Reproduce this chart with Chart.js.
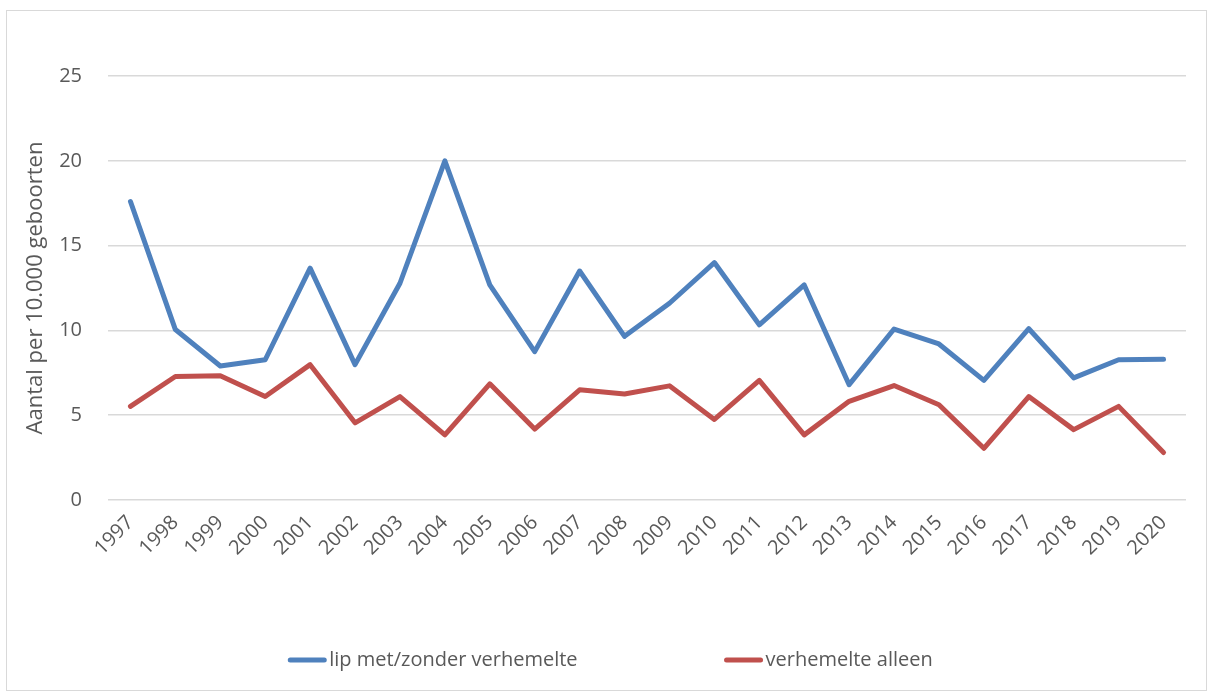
<!DOCTYPE html>
<html>
<head>
<meta charset="utf-8">
<script src="https://cdn.jsdelivr.net/npm/chart.js@4/dist/chart.umd.min.js"></script>
<style>
  html, body { margin: 0; padding: 0; background: #fff; }
  #wrap { width: 1213px; height: 695px; position: relative; }
</style>
</head>
<body>
<div id="wrap"><canvas id="cleftChart" width="1213" height="695"></canvas></div>
<script>
const years = ["1997", "1998", "1999", "2000", "2001", "2002", "2003", "2004", "2005", "2006", "2007", "2008",
  "2009", "2010", "2011", "2012", "2013", "2014", "2015", "2016", "2017", "2018", "2019", "2020"];

const lipValues = [17.6, 10.05, 7.9, 8.27, 13.67, 7.98, 12.78, 20.0, 12.68, 8.75, 13.5, 9.65,
  11.6, 14.0, 10.33, 12.68, 6.8, 10.08, 9.2, 7.05, 10.1, 7.2, 8.27, 8.3];

const palateValues = [5.52, 7.28, 7.33, 6.1, 7.98, 4.55, 6.1, 3.84, 6.85, 4.18, 6.5, 6.25,
  6.73, 4.75, 7.05, 3.84, 5.82, 6.75, 5.62, 3.05, 6.1, 4.15, 5.52, 2.8];

const seriesNames = ["lip met/zonder verhemelte", "verhemelte alleen"];
const yTicks = [0, 5, 10, 15, 20, 25];

const textColor = "#595959";
const fontFamily = "'Open Sans', 'Noto Sans', sans-serif";

const frame = {
  id: "frame",
  beforeDraw(chart) {
    const c = chart.ctx;
    c.save();
    c.fillStyle = "#fff";
    c.fillRect(0, 0, chart.width, chart.height);
    c.strokeStyle = "#d9d9d9";
    c.lineWidth = 1;
    c.strokeRect(6.5, 10.5, 1200, 680);
    c.restore();
  }
};

// legend drawn like the office one: short thick line, text right next to it, wide gap between items
const bottomLegend = {
  id: "bottomLegend",
  afterDraw(chart) {
    const c = chart.ctx;
    const y = 660;
    const lineLen = 40;
    const textGap = 2;
    const itemGap = 146;
    c.save();
    c.font = "20px " + fontFamily;
    c.textBaseline = "middle";
    const items = chart.data.datasets.map((ds) => ({
      text: ds.label,
      color: ds.borderColor,
      w: lineLen + textGap + c.measureText(ds.label).width
    }));
    const total = items.reduce((s, it) => s + it.w, 0) + itemGap * (items.length - 1);
    let x = 610 - total / 2;
    items.forEach((it) => {
      c.strokeStyle = it.color;
      c.lineWidth = 5;
      c.lineCap = "round";
      c.beginPath();
      c.moveTo(x + 3, y);
      c.lineTo(x + lineLen - 3, y);
      c.stroke();
      c.fillStyle = textColor;
      c.fillText(it.text, x + lineLen + textGap, y);
      x += it.w + itemGap;
    });
    c.restore();
  }
};

const canvas = document.getElementById("cleftChart");

new Chart(canvas.getContext("2d"), {
  type: "line",
  data: {
    labels: years,
    datasets: [
      {
        label: seriesNames[0],
        data: lipValues,
        borderColor: "#4f81bd",
        backgroundColor: "#4f81bd",
        borderWidth: 5,
        borderCapStyle: "round",
        borderJoinStyle: "round",
        pointRadius: 0,
        tension: 0
      },
      {
        label: seriesNames[1],
        data: palateValues,
        borderColor: "#c0504d",
        backgroundColor: "#c0504d",
        borderWidth: 5,
        borderCapStyle: "round",
        borderJoinStyle: "round",
        pointRadius: 0,
        tension: 0
      }
    ]
  },
  options: {
    responsive: false,
    animation: false,
    layout: { padding: { left: 20, top: 76, right: 27, bottom: 110 } },
    plugins: {
      legend: { display: false },
      tooltip: { enabled: false }
    },
    scales: {
      x: {
        offset: true,
        grid: { display: false, drawTicks: false },
        border: { display: false },
        afterFit(scale) { scale.height = 85; },
        ticks: {
          autoSkip: false,
          maxRotation: 45,
          minRotation: 45,
          padding: 11,
          color: textColor,
          font: { family: fontFamily, size: 20 }
        }
      },
      y: {
        min: 0,
        max: 25,
        afterFit(scale) { scale.width = 88; },
        afterBuildTicks(scale) { scale.ticks = yTicks.map((v) => ({ value: v })); },
        grid: { color: "#d9d9d9", lineWidth: 1.5, drawTicks: false },
        border: { display: false },
        ticks: {
          padding: 26,
          color: textColor,
          font: { family: fontFamily, size: 20 }
        },
        title: {
          display: true,
          text: "Aantal per 10.000 geboorten",
          color: textColor,
          padding: { top: 3, bottom: 0 },
          font: { family: fontFamily, size: 22 }
        }
      }
    }
  },
  plugins: [frame, bottomLegend]
});
</script>
</body>
</html>
